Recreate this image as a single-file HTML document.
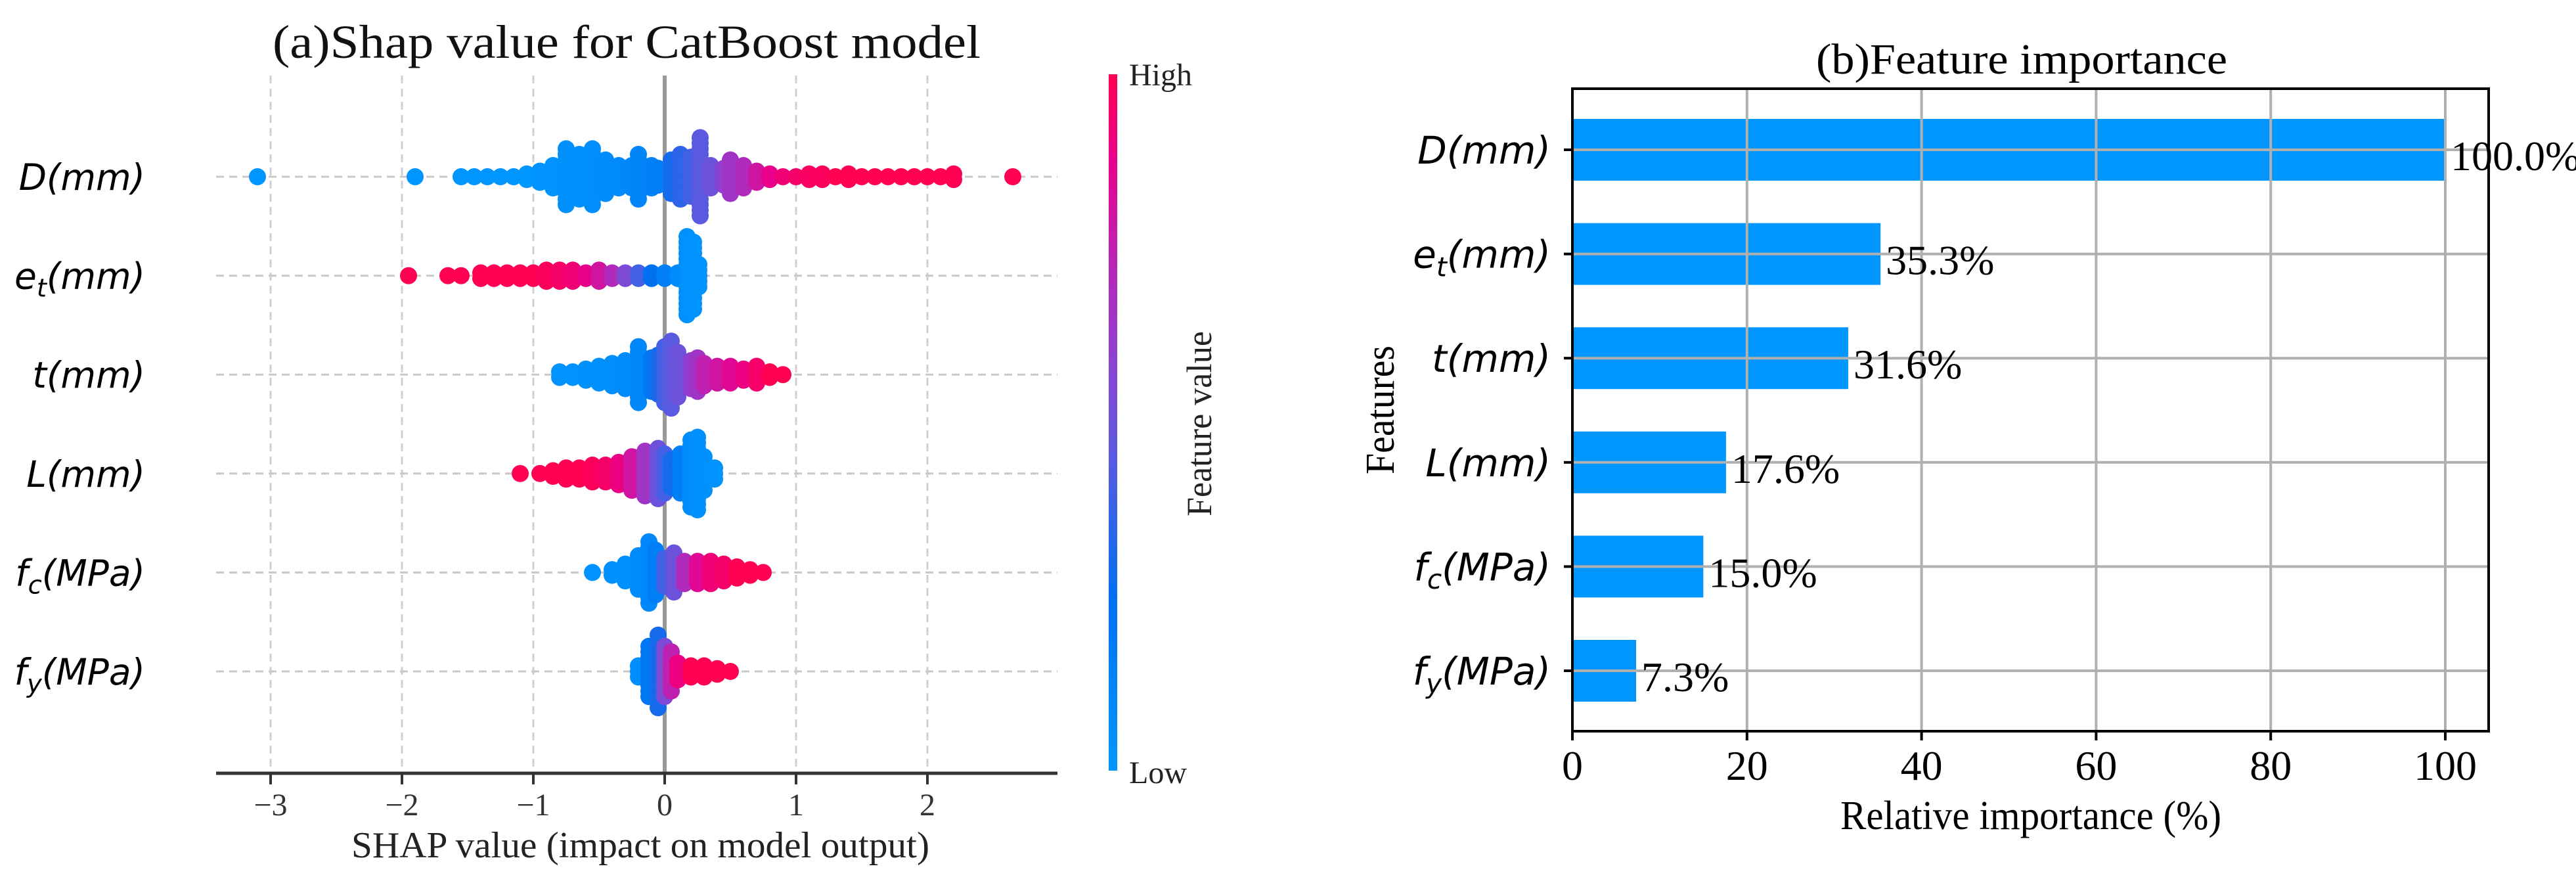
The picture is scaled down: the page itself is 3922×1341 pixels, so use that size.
<!DOCTYPE html>
<html><head><meta charset="utf-8"><style>
html,body{margin:0;padding:0;background:#fff;}
svg{display:block;}
.serif{font-family:"Liberation Serif","DejaVu Serif",serif;}
.math{font-family:"DejaVu Sans","Liberation Sans",sans-serif;font-style:italic;}
</style></head><body>
<svg id="fig" width="3922" height="1341" viewBox="0 0 3922 1341" xmlns="http://www.w3.org/2000/svg">
<defs>
<linearGradient id="cbar" x1="0" y1="1" x2="0" y2="0">
<stop offset="0" stop-color="#0096ff"/><stop offset="0.25" stop-color="#0070f0"/>
<stop offset="0.45" stop-color="#5a5ae0"/><stop offset="0.6" stop-color="#9040d0"/>
<stop offset="0.75" stop-color="#c020b0"/><stop offset="0.88" stop-color="#e8008a"/>
<stop offset="1" stop-color="#ff0052"/></linearGradient>
</defs>
<g id="shap"></g>
<g id="imp"></g>
</svg>
<script>
// ---------- Data: SHAP beeswarm (bins: shap value, dot count, feature value 0..1) ----------
const shapFeatures = ["D","e","t","L","fc","fy"];
const D_x = [-3.1,-1.9,-1.55,-1.45,-1.35,-1.25,-1.15,-1.05,-0.95,-0.85,-0.75,-0.65,-0.55,-0.45,-0.35,-0.25,-0.2,-0.1,-0.05,0.05,0.12,0.2,0.27,0.35,0.45,0.5,0.6,0.7,0.8,0.9,1.0,1.1,1.2,1.3,1.4,1.5,1.6,1.7,1.8,1.9,2.0,2.1,2.2,2.65];
const D_n = [1,1,1,1,1,1,1,2,3,5,11,9,11,7,5,5,9,5,4,7,9,8,15,5,4,7,5,3,2,1,1,2,2,1,2,1,1,1,1,1,1,1,2,1];
const D_c = [0,0,0,0,0,0,0,0,0.02,0.02,0.03,0.04,0.05,0.06,0.08,0.1,0.12,0.14,0.16,0.3,0.35,0.4,0.45,0.5,0.6,0.65,0.7,0.8,0.88,0.92,0.95,0.97,0.98,1,1,1,1,1,1,1,1,1,1,1];
const e_x = [-1.95,-1.65,-1.55,-1.4,-1.3,-1.2,-1.1,-1.0,-0.9,-0.8,-0.7,-0.6,-0.5,-0.4,-0.3,-0.2,-0.1,0.0,0.1,0.17,0.22,0.26];
const e_n = [1,1,1,2,2,2,2,2,3,3,3,2,3,2,2,2,2,2,2,15,13,5];
const e_c = [1,1,1,1,1,1,1,1,0.98,0.95,0.92,0.88,0.8,0.7,0.55,0.4,0.25,0.15,0.08,0.03,0.02,0.02];
const t_x = [-0.8,-0.7,-0.6,-0.5,-0.4,-0.3,-0.2,-0.1,-0.05,0.0,0.05,0.1,0.2,0.25,0.3,0.4,0.5,0.6,0.7,0.8,0.9];
const t_n = [2,2,3,4,5,6,11,7,8,11,13,9,6,7,5,4,4,3,4,2,1];
const t_c = [0.02,0.02,0.03,0.04,0.05,0.08,0.1,0.2,0.3,0.4,0.45,0.5,0.6,0.65,0.75,0.8,0.85,0.9,0.95,1,1];
const L_x = [-1.1,-0.95,-0.85,-0.75,-0.65,-0.55,-0.45,-0.35,-0.25,-0.15,-0.05,0.0,0.05,0.12,0.2,0.25,0.3,0.38];
const L_n = [1,1,2,3,3,4,4,5,7,9,10,8,6,8,13,14,7,3];
const L_c = [1,1,1,1,1,0.98,0.95,0.9,0.8,0.65,0.5,0.4,0.3,0.15,0.06,0.03,0.03,0.02];
const fc_x = [-0.55,-0.4,-0.3,-0.2,-0.12,-0.07,0.0,0.07,0.15,0.25,0.35,0.45,0.55,0.65,0.75];
const fc_n = [1,2,4,7,12,9,6,8,5,5,5,4,3,2,1];
const fc_c = [0.02,0.03,0.04,0.06,0.1,0.15,0.4,0.5,0.7,0.85,0.92,0.95,1,1,1];
const fy_x = [-0.2,-0.12,-0.05,0.0,0.05,0.1,0.2,0.3,0.4,0.5];
const fy_n = [3,10,14,10,8,4,3,3,2,1];
const fy_c = [0.05,0.2,0.3,0.55,0.75,0.9,1,1,1,1];
const shapTicks = [-3,-2,-1,0,1,2];

// ---------- Data: feature importance ----------
const impValues = [100.0,35.3,31.6,17.6,15.0,7.3];
const impLabels = ["100.0%","35.3%","31.6%","17.6%","15.0%","7.3%"];
const impTicks = [0,20,40,60,80,100];

const NS="http://www.w3.org/2000/svg";
function mk(tag,attrs,parent,text){const e=document.createElementNS(NS,tag);for(const k in attrs)e.setAttribute(k,attrs[k]);if(text!==undefined)e.textContent=text;parent.appendChild(e);return e;}

const cstops=[[0,[0,150,255]],[0.25,[0,112,240]],[0.45,[90,90,224]],[0.6,[144,64,208]],[0.75,[192,32,176]],[0.88,[232,0,138]],[1,[255,0,82]]];
function cmap(v){for(let i=1;i<cstops.length;i++){if(v<=cstops[i][0]){const a=cstops[i-1],b=cstops[i];const t=(v-a[0])/(b[0]-a[0]);return "rgb("+a[1].map((c,j)=>Math.round(c+(b[1][j]-c)*t)).join(",")+")";}}return "rgb(255,0,82)";}

function mathLabel(parent,x,y,size,base,sub,rest,name){
  const t=mk("text",{x:x,y:y,"text-anchor":"end","font-size":size,"class":"math",fill:"#000"},parent);
  
  
  mk("tspan",{},t,base);
  if(sub){mk("tspan",{"font-size":size*0.7,dy:size*0.22},t,sub);mk("tspan",{dy:-size*0.22},t,rest);}
  else mk("tspan",{},t,rest);
  return t;
}
const labelDefs=[["D","","(mm)"],["e","t","(mm)"],["t","","(mm)"],["L","","(mm)"],["f","c","(MPa)"],["f","y","(MPa)"]];
const labelNames=["d-mm","et-mm","t-mm","l-mm","fc-mpa","fy-mpa"];

// ================= Left: SHAP =================
(function(){
const g=document.getElementById("shap");
const x0=1012, unit=200, left=329, right=1610, top=115, axisY=1177;
const xs=v=>x0+v*unit;
const rowY=i=>269+i*150.6;
shapTicks.forEach(t=>{const l=mk("line",{x1:xs(t),x2:xs(t),y1:top,y2:axisY,stroke:"#cfcfcf","stroke-width":3,"stroke-dasharray":"12,8"},g);

});
for(let i=0;i<6;i++){const l=mk("line",{x1:left,x2:right,y1:rowY(i),y2:rowY(i),stroke:"#c8c8c8","stroke-width":3,"stroke-dasharray":"12,8"},g);

}
const z=mk("line",{x1:xs(0),x2:xs(0),y1:top,y2:axisY,stroke:"#999","stroke-width":6},g);


const sets=[[D_x,D_n,D_c],[e_x,e_n,e_c],[t_x,t_n,t_c],[L_x,L_n,L_c],[fc_x,fc_n,fc_c],[fy_x,fy_n,fy_c]];
sets.forEach((s,i)=>{const gg=mk("g",{},g);


s[0].forEach((v,k)=>{const n=s[1][k];for(let j=0;j<n;j++){const off=(j-(n-1)/2)*8.5;
const c=mk("circle",{cx:xs(v),cy:rowY(i)+off,r:13,fill:cmap(s[2][k])},gg);

}});});
const ax=mk("line",{x1:left,x2:right,y1:axisY,y2:axisY,stroke:"#333","stroke-width":5},g);


shapTicks.forEach(t=>{const tk=mk("line",{x1:xs(t),x2:xs(t),y1:axisY,y2:axisY+17,stroke:"#333","stroke-width":4},g);


const tl=mk("text",{x:xs(t),y:1241,"text-anchor":"middle","font-size":48,"class":"serif",fill:"#333"},g,t<0?"\u2212"+(-t):String(t));

});
labelDefs.forEach((d,i)=>mathLabel(g,221,rowY(i)+20,55,d[0],d[1],d[2],'y-label-'+labelNames[i]));
const xl=mk("text",{x:975,y:1305,"text-anchor":"middle","font-size":56,"class":"serif",fill:"#222",textLength:880,lengthAdjust:"spacingAndGlyphs"},g,"SHAP value (impact on model output)");


const ti=mk("text",{x:954,y:88,"text-anchor":"middle","font-size":72,"class":"serif",fill:"#111",textLength:1078,lengthAdjust:"spacingAndGlyphs"},g,"(a)Shap value for CatBoost model");


const cb=mk("rect",{x:1688,y:113,width:13,height:1060,fill:"url(#cbar)"},g);


const hi=mk("text",{x:1719,y:130,"font-size":48,"class":"serif",fill:"#222"},g,"High");


const lo=mk("text",{x:1719,y:1192,"font-size":48,"class":"serif",fill:"#222"},g,"Low");


const fv=mk("text",{x:0,y:0,"text-anchor":"middle","font-size":54,"class":"serif",fill:"#222",transform:"translate(1844,645) rotate(-90)",textLength:282,lengthAdjust:"spacingAndGlyphs"},g,"Feature value");


})();

// ================= Right: Feature importance =================
(function(){
const g=document.getElementById("imp");
const L=2394,R=3789,T=135,B=1113,perUnit=(3723-2394)/100;
const xs=v=>L+v*perUnit;
const rowY=i=>228+i*158.6;
const bh=94;
impValues.forEach((v,i)=>{const b=mk("rect",{x:L,y:rowY(i)-bh/2,width:xs(v)-L,height:bh,fill:"#0096ff"},g);

});
impTicks.forEach(t=>{if(t===0)return;const l=mk("line",{x1:xs(t),x2:xs(t),y1:T,y2:B,stroke:"#b0b0b0","stroke-width":4},g);

});
impValues.forEach((v,i)=>{const l=mk("line",{x1:L,x2:R,y1:rowY(i),y2:rowY(i),stroke:"#b0b0b0","stroke-width":4},g);

});
impValues.forEach((v,i)=>{const t=mk("text",{x:xs(v)+8,y:rowY(i)+31,"font-size":64,"class":"serif",fill:"#000"},g,impLabels[i]);

});
const fr=mk("rect",{x:L,y:T,width:R-L,height:B-T,fill:"none",stroke:"#000","stroke-width":4},g);


impTicks.forEach(t=>{const tk=mk("line",{x1:xs(t),x2:xs(t),y1:B,y2:B+14,stroke:"#000","stroke-width":4},g);


const tl=mk("text",{x:xs(t),y:1187,"text-anchor":"middle","font-size":64,"class":"serif",fill:"#000"},g,String(t));

});
impValues.forEach((v,i)=>{const tk=mk("line",{x1:L-13,x2:L,y1:rowY(i),y2:rowY(i),stroke:"#000","stroke-width":4},g);

});
labelDefs.forEach((d,i)=>mathLabel(g,2361,rowY(i)+21,58,d[0],d[1],d[2],'y-tick-label-'+labelNames[i]));
const xl=mk("text",{x:3092,y:1262,"text-anchor":"middle","font-size":62,"class":"serif",fill:"#000",textLength:580,lengthAdjust:"spacingAndGlyphs"},g,"Relative importance (%)");


const yl=mk("text",{x:0,y:0,"text-anchor":"middle","font-size":62,"class":"serif",fill:"#000",transform:"translate(2122,624) rotate(-90)",textLength:196,lengthAdjust:"spacingAndGlyphs"},g,"Features");


const ti=mk("text",{x:3078,y:112,"text-anchor":"middle","font-size":66,"class":"serif",fill:"#000",textLength:626,lengthAdjust:"spacingAndGlyphs"},g,"(b)Feature importance");


})();
</script>
</body></html>
